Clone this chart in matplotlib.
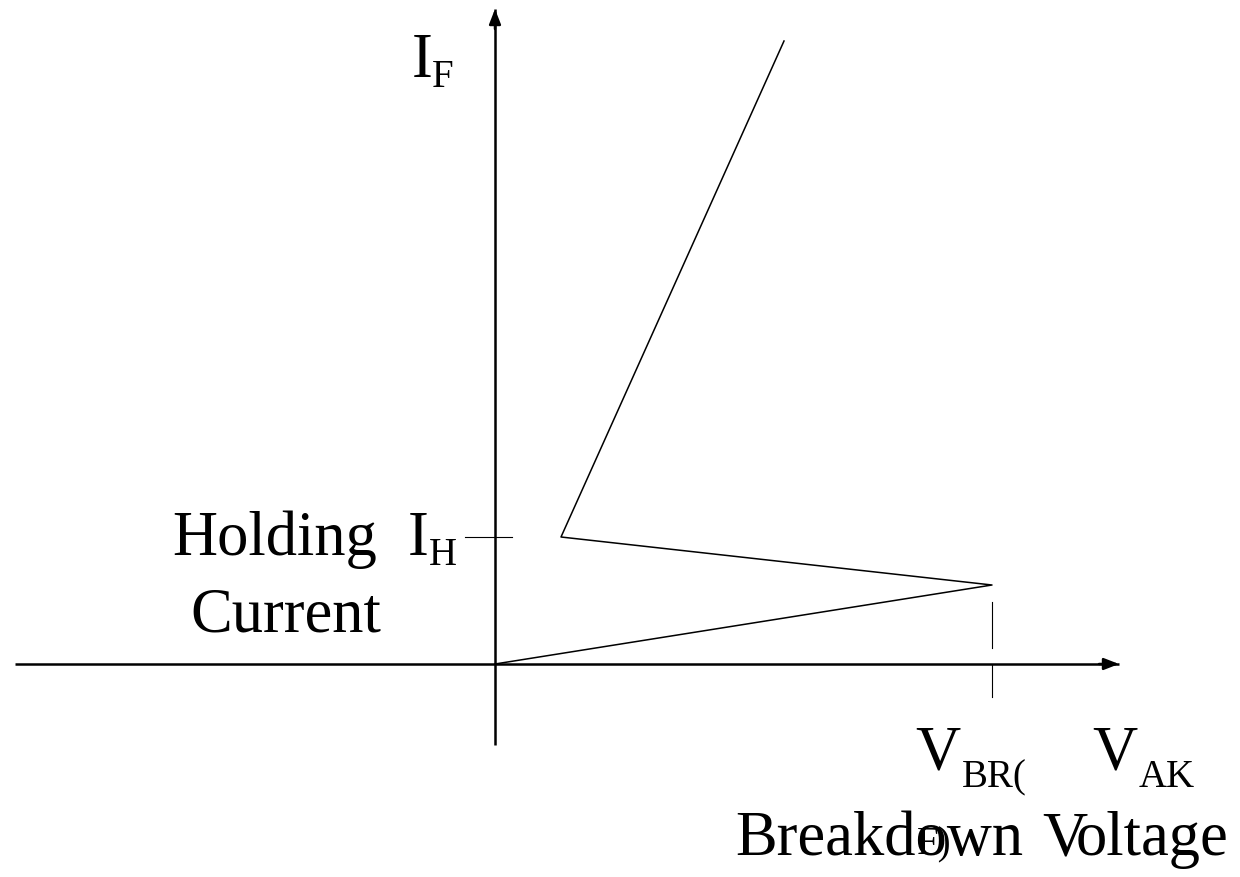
import numpy as np
import matplotlib
matplotlib.use("Agg")
import matplotlib.pyplot as plt

# SCR forward characteristic (arbitrary units, origin at axis crossing)
v_curve = [0, 497, 66, 289]
i_curve = [0, 79, 127, 623]
v_br = 497
i_h = 127

# axis extents
v_axis = [-480, 624]
i_axis = [-81, 655]

W, H = 1240, 877
ox, oy = 495, 664  # origin in pixels

fig = plt.figure(figsize=(W / 100, H / 100), dpi=100)
ax = fig.add_axes([0, 0, 1, 1])
ax.set_xlim(-ox, W - ox)
ax.set_ylim(oy - H, oy)
ax.axis("off")

# axes with arrows
ax.plot(v_axis, [0, 0], color="black", lw=1.8, solid_capstyle="butt")
ax.plot([0, 0], i_axis, color="black", lw=1.8, solid_capstyle="butt")
ax.annotate("", xy=(v_axis[1], 0), xytext=(v_axis[1] - 20, 0),
            arrowprops=dict(arrowstyle="-|>,head_length=0.9,head_width=0.35",
                            color="black", lw=1.8, shrinkA=0, shrinkB=0))
ax.annotate("", xy=(0, i_axis[1]), xytext=(0, i_axis[1] - 20),
            arrowprops=dict(arrowstyle="-|>,head_length=0.9,head_width=0.35",
                            color="black", lw=1.8, shrinkA=0, shrinkB=0))

# characteristic curve
ax.plot(v_curve, i_curve, color="black", lw=1.1)

# holding current tick
ax.plot([-30, 17], [i_h, i_h], color="black", lw=0.8)
# breakdown voltage marker
ax.plot([v_br, v_br], [62, 16], color="black", lw=0.8)
ax.plot([v_br, v_br], [-1, -33], color="black", lw=0.8)

serif = "Liberation Serif"
big = 45
small = 28


def txt(px, py, s, size, ha="left"):
    ax.text(px - ox, oy - py, s, fontsize=size, family=serif,
            ha=ha, va="baseline", color="black")


txt(412, 77, "I", big)
txt(432, 87, "F", small)

txt(172, 555, "Holding", big)
txt(190, 632, "Current", big)
txt(408, 555, "I", big)
txt(429, 565, "H", small)

txt(915, 770, "V", big)
txt(962, 787, "BR(", small)
txt(1092, 770, "V", big)
txt(1139, 787, "AK", small)

txt(735, 855, "Breakdown", big)
txt(917, 854, "F)", small)
txt(1042, 855, "V", big)
txt(1228, 855, "oltage", big, ha="right")

fig.savefig("out.png", dpi=100)
